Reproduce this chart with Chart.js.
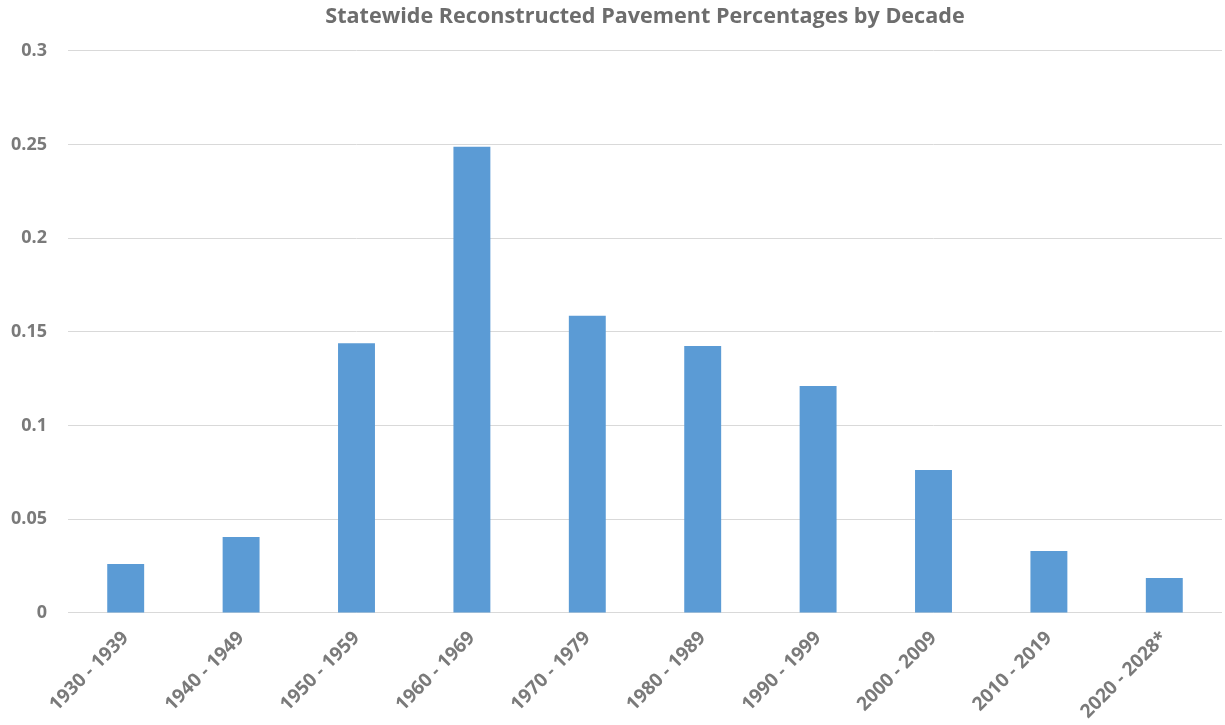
<!DOCTYPE html>
<html lang="en">
<head>
  <meta charset="UTF-8">
  <title>Statewide Reconstructed Pavement Percentages by Decade</title>
  <script src="https://cdn.jsdelivr.net/npm/chart.js"></script>
  <style>
    * { margin: 0; padding: 0; box-sizing: border-box; }
    body { background: #fff; width: 1225px; height: 725px; overflow: hidden; }
    .wrap { position: relative; width: 1225px; height: 725px; }
  </style>
</head>
<body>
  <div class="wrap"><canvas id="chart"></canvas></div>
  <script>
    const decades = ['1930 - 1939', '1940 - 1949', '1950 - 1959', '1960 - 1969', '1970 - 1979',
                     '1980 - 1989', '1990 - 1999', '2000 - 2009', '2010 - 2019', '2020 - 2028*'];
    const shares = [0.0262, 0.0406, 0.144, 0.2489, 0.1586, 0.1425, 0.1212, 0.0763, 0.0331, 0.0187];
    const yTicks = [0, 0.05, 0.1, 0.15, 0.2, 0.25, 0.3];

    const grey = '#7a7a7a';
    const font = "'Open Sans', 'Noto Sans', sans-serif";

    // centre the title over the plot area instead of the whole canvas
    const titleOverPlot = {
      id: 'titleOverPlot',
      afterLayout(chart) {
        const t = chart.titleBlock;
        t.left = chart.chartArea.left;
        t.right = chart.chartArea.right;
      }
    };

    new Chart(document.getElementById('chart'), {
      type: 'bar',
      data: {
        labels: decades,
        datasets: [{
          data: shares,
          backgroundColor: '#5b9bd5',
          barPercentage: 0.32,
          categoryPercentage: 1
        }]
      },
      options: {
        responsive: true,
        maintainAspectRatio: false,
        animation: false,
        layout: { padding: { right: 3 } },
        plugins: {
          legend: { display: false },
          tooltip: { enabled: false },
          title: {
            display: true,
            text: 'Statewide Reconstructed Pavement Percentages by Decade',
            color: '#6d6d6d',
            font: { family: font, size: 21.6, weight: 'bold', lineHeight: 1.2 },
            padding: { top: 4, bottom: 21 }
          }
        },
        scales: {
          x: {
            grid: { display: false },
            border: { display: false },
            ticks: {
              color: grey,
              font: { family: font, size: 19, weight: 'bold' },
              minRotation: 45,
              maxRotation: 45,
              padding: 6
            },
            afterFit: s => { s.height = 112; }
          },
          y: {
            min: 0,
            max: 0.3,
            afterBuildTicks: s => { s.ticks = yTicks.map(v => ({ value: v })); },
            grid: { color: '#d9d9d9', lineWidth: 1, drawTicks: false },
            border: { display: false },
            ticks: {
              color: grey,
              font: { family: font, size: 18, weight: 'bold' },
              padding: 21,
              callback: v => String(v)
            },
            afterFit: s => { s.width = 68; }
          }
        }
      },
      plugins: [titleOverPlot]
    });
  </script>
</body>
</html>
